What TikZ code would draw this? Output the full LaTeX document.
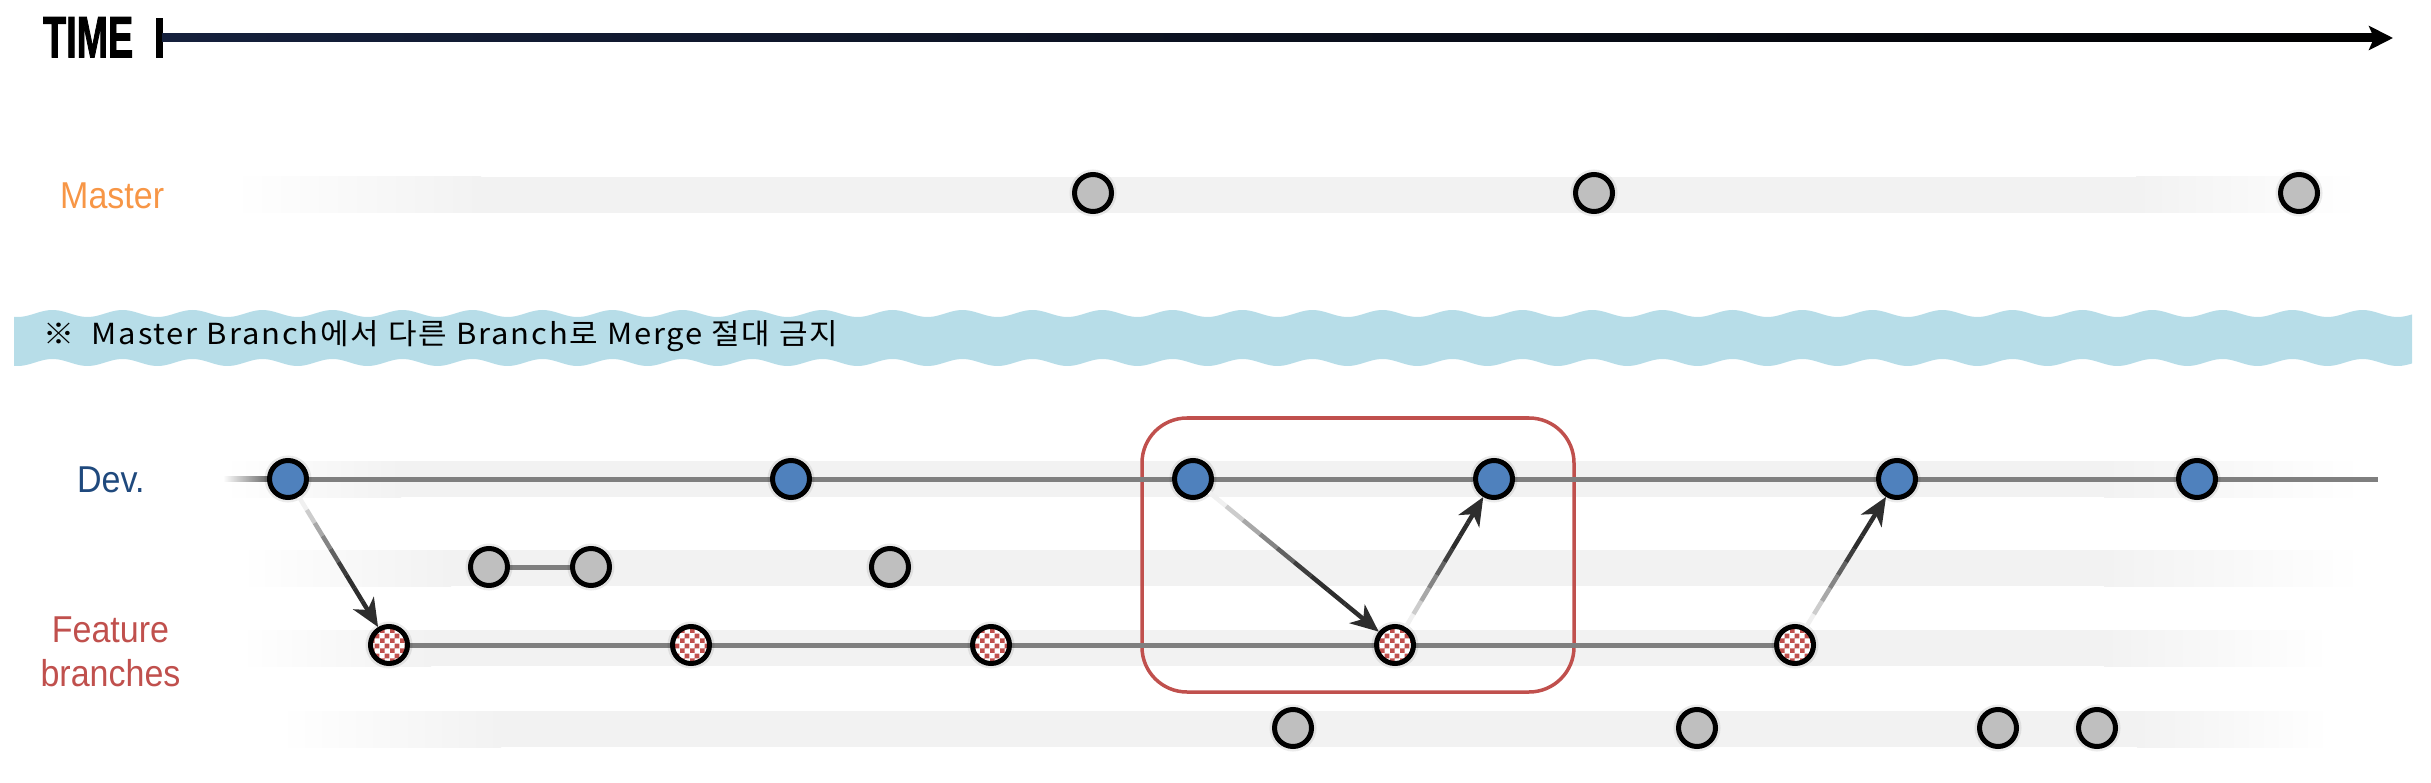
\documentclass[tikz,border=0pt]{standalone}
\usepackage{fontspec}
\usepackage{graphicx}
\setmainfont{Liberation Sans}
\newfontfamily\krfont[LetterSpace=6]{Noto Sans CJK KR}
\newfontfamily\timefont[FakeBold=2]{Liberation Sans Bold}
\usetikzlibrary{arrows.meta,calc,patterns}
\definecolor{bandgray}{HTML}{F2F2F2}
\definecolor{devblue}{HTML}{4F81BD}
\definecolor{nodegray}{HTML}{BFBFBF}
\definecolor{featred}{HTML}{C0504D}
\definecolor{mastorange}{HTML}{F79646}
\definecolor{devtext}{HTML}{1F497D}
\definecolor{wavecol}{HTML}{B7DDE8}
\definecolor{linegray}{HTML}{7F7F7F}
\definecolor{axisnavy}{HTML}{15203C}
\pgfdeclarepatternformonly{bigchecks}{\pgfpointorigin}{\pgfqpoint{10pt}{10pt}}{\pgfqpoint{10pt}{10pt}}{%
  \pgfpathrectangle{\pgfpointorigin}{\pgfqpoint{5pt}{5pt}}%
  \pgfpathrectangle{\pgfqpoint{5pt}{5pt}}{\pgfqpoint{5pt}{5pt}}%
  \pgfusepath{fill}}
\pgfdeclarelayer{bandlayer}
\pgfdeclarelayer{linelayer}
\pgfsetlayers{bandlayer,linelayer,main}
\newcommand\labelfont{\fontsize{34}{44}\selectfont}
\newcommand\rowband[5]{%
  \shade[left color=white, right color=bandgray] (#1,{#5-18}) rectangle ({#2+1},{#5+18});
  \fill[bandgray] (#2,{#5-18}) rectangle (#3,{#5+18});
  \shade[left color=bandgray, right color=white] ({#3-1},{#5-18}) rectangle (#4,{#5+18});}
\newcommand\gradarrow[2]{%
  \path (#1) -- (#2) coordinate[pos=0] (ga) coordinate[pos=1] (gb);
  \foreach \i in {0,...,7}{%
    \pgfmathsetmacro\shadepct{min(82,6+14*\i)}%
    \draw[arrowline, draw=black!\shadepct] ($(ga)!{\i/10}!(gb)$) -- ($(ga)!{(\i+1)/10}!(gb)$);}
  \draw[arrowline, draw=black!82, -{Stealth[length=28pt,width=24pt,inset=8pt]}] ($(ga)!0.8!(gb)$) -- (gb);}
\tikzset{
  commit/.style={circle, draw=black, line width=5pt, minimum size=37pt, inner sep=0pt,
    preaction={draw=black, draw opacity=0.08, line width=10pt}},
  devc/.style={commit, fill=devblue},
  grayc/.style={commit, fill=nodegray},
  featc/.style={commit, preaction={fill=white}, pattern=bigchecks, pattern color=featred},
  branchline/.style={draw=linegray, line width=5pt},
  arrowline/.style={line width=4.5pt},
  lbl/.style={inner sep=0pt, font=\labelfont},
}
\begin{document}
\begin{tikzpicture}[x=1pt,y=-1pt]
\useasboundingbox (0,0) rectangle (2431,783);
% time axis
\node[anchor=north west, inner sep=0pt] (time) at (43,17) {\timefont\resizebox{90pt}{40pt}{TIME}};
\node[fill=black, inner sep=0pt, minimum width=7pt, minimum height=40pt] (tbar) at (159.5,38) {};
\coordinate (tend) at (2393,38);
\shade[left color=axisnavy, right color=black] ($(tbar.east)+(-1,-4)$) rectangle ($(tend)+(-20,4)$);
\draw[line width=8pt, -{Stealth[length=24pt,width=24pt,inset=5pt]}] ($(tend)+(-30,0)$) -- (tend);
% labels
\node[lbl, anchor=base west, text=mastorange] (mlabel) at (60,209) {\scalebox{1}[1.1]{Master}};
\node[lbl, anchor=base west, text=devtext] (dlabel) at (77,492) {\scalebox{1}[1.1]{Dev.}};
\node[lbl, align=center, text=featred] (flabel) at (110.5,652) {\scalebox{1}[1.1]{Feature}\\\scalebox{1}[1.1]{branches}};
% commits
\node[grayc] (m1) at (1093,193) {};
\node[grayc] (m2) at (1594,193) {};
\node[grayc] (m3) at (2299,193) {};
\node[devc] (d1) at (288,479) {};
\node[devc] (d2) at (791,479) {};
\node[devc] (d3) at (1193,479) {};
\node[devc] (d4) at (1494,479) {};
\node[devc] (d5) at (1897,479) {};
\node[devc] (d6) at (2197,479) {};
\node[grayc] (r1) at (489,567) {};
\node[grayc] (r2) at (591,567) {};
\node[grayc] (r3) at (890,567) {};
\node[featc] (f1) at (389,645) {};
\node[featc] (f2) at (691,645) {};
\node[featc] (f3) at (991,645) {};
\node[featc] (f4) at (1395,645) {};
\node[featc] (f5) at (1795,645) {};
\node[grayc] (q1) at (1293,728) {};
\node[grayc] (q2) at (1697,728) {};
\node[grayc] (q3) at (1998,728) {};
\node[grayc] (q4) at (2097,728) {};
\coordinate (devstart) at (223,479);
\coordinate (devend) at (2378,479);
% note text
\node[anchor=base west, inner sep=0pt] (note) at (43,345) {\krfont\fontsize{29}{30}\selectfont\resizebox{795pt}{\height}{※\ \ Master Branch에서 다른 Branch로 Merge 절대 금지}};
\begin{pgfonlayer}{bandlayer}
  \rowband{233}{480}{2137}{2358}{195}
  \rowband{225}{400}{2105}{2362}{479}
  \rowband{240}{450}{2105}{2362}{568}
  \rowband{240}{430}{2105}{2330}{648}
  \rowband{279}{500}{2138}{2330}{729}
  \fill[wavecol] plot[domain=14:2412, samples=700] (\x,{313.5+3.5*sin(\x/70*360)})
     -- plot[domain=2412:14, samples=700] (\x,{362.5+3.5*sin(\x/70*360)}) -- cycle;
  \node[draw=featred, line width=3.5pt, rounded corners=45pt, minimum width=432pt, minimum height=274pt, inner sep=0pt] (focus) at (1358,555) {};
\end{pgfonlayer}
\begin{pgfonlayer}{linelayer}
  \shade[left color=white, right color=black!85] ($(devstart)+(0,-2.5)$) rectangle ($(d1.center)+(0,2.5)$);
  \draw[branchline] (d1) -- (d2) -- (d3) -- (d4) -- (d5) -- (d6) -- (devend);
  \draw[branchline] (r1) -- (r2);
  \draw[branchline] (f1) -- (f2) -- (f3) -- (f4) -- (f5);
\end{pgfonlayer}
% merges
\gradarrow{d1}{f1}
\gradarrow{d3}{f4}
\gradarrow{f4}{d4}
\gradarrow{f5}{d5}
\end{tikzpicture}
\end{document}
